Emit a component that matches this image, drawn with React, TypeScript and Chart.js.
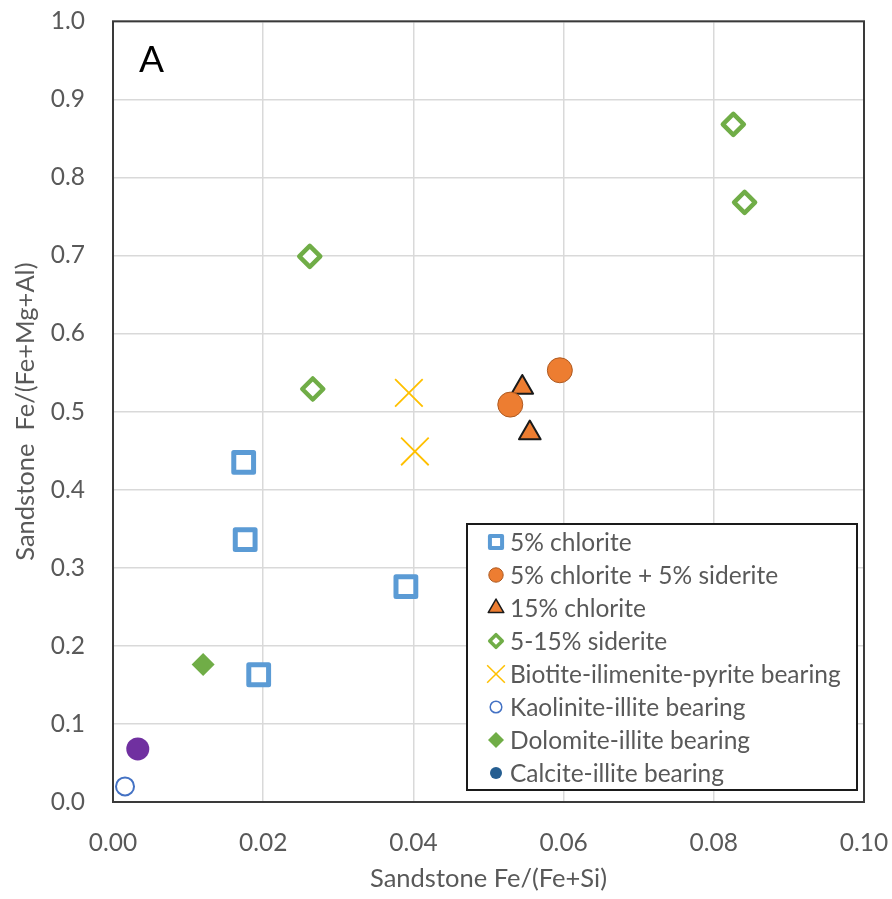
import React, { useEffect, useRef } from 'react';
import { Chart, registerables } from 'chart.js';

Chart.register(...registerables);

const FONT = 'Lato, "Noto Sans", sans-serif';
const TEXT_GREY = '#595959';

// Axis ticks
const xTickValues = [0, 0.02, 0.04, 0.06, 0.08, 0.1];
const xTickLabels = ['0.00', '0.02', '0.04', '0.06', '0.08', '0.10'];
const yTickValues = [0, 0.1, 0.2, 0.3, 0.4, 0.5, 0.6, 0.7, 0.8, 0.9, 1.0];
const yTickLabels = ['0.0', '0.1', '0.2', '0.3', '0.4', '0.5', '0.6', '0.7', '0.8', '0.9', '1.0'];

// Sample groups: Fe/(Fe+Si) on x, Fe/(Fe+Mg+Al) on y
const chlorite5X = [0.0174, 0.0176, 0.0194, 0.039];
const chlorite5Y = [0.435, 0.336, 0.163, 0.276];

const chloriteSideriteX = [0.0529, 0.0595];
const chloriteSideriteY = [0.509, 0.553];

const chlorite15X = [0.0545, 0.0555];
const chlorite15Y = [0.531, 0.4725];

const sideriteX = [0.0262, 0.0266, 0.0826, 0.0841];
const sideriteY = [0.699, 0.529, 0.868, 0.768];

const biotiteX = [0.0394, 0.0402];
const biotiteY = [0.524, 0.449];

const kaoliniteX = [0.0016];
const kaoliniteY = [0.02];

const dolomiteX = [0.012];
const dolomiteY = [0.176];

const calciteX: number[] = [];
const calciteY: number[] = [];

const otherX = [0.0033];
const otherY = [0.068];

const pts = (xs: number[], ys: number[]) => xs.map((x, i) => ({ x, y: ys[i] }));

const datasets: any[] = [
  {
    label: '5% chlorite',
    data: pts(chlorite5X, chlorite5Y),
    pointStyle: 'rect',
    pointRadius: 14,
    pointBorderWidth: 5,
    pointBorderColor: '#5B9BD5',
    pointBackgroundColor: '#ffffff',
    legendRadius: 8.6,
    legendBorder: 4,
  },
  {
    label: '5% chlorite + 5% siderite',
    data: pts(chloriteSideriteX, chloriteSideriteY),
    pointStyle: 'circle',
    pointRadius: 12.5,
    pointBorderWidth: 1,
    pointBorderColor: '#AE5A21',
    pointBackgroundColor: '#ED7D31',
    legendRadius: 7.2,
    legendBorder: 1,
  },
  {
    label: '15% chlorite',
    data: pts(chlorite15X, chlorite15Y),
    pointStyle: 'triangle',
    pointRadius: 12.5,
    pointBorderWidth: 2,
    pointBorderColor: '#1a1a1a',
    pointBackgroundColor: '#ED7D31',
    legendRadius: 9,
    legendBorder: 1.5,
  },
  {
    label: '5-15% siderite',
    data: pts(sideriteX, sideriteY),
    pointStyle: 'rectRot',
    pointRadius: 10.5,
    pointBorderWidth: 4.5,
    pointBorderColor: '#70AD47',
    pointBackgroundColor: '#ffffff',
    legendRadius: 6.3,
    legendBorder: 3.5,
  },
  {
    label: 'Biotite-ilimenite-pyrite bearing',
    data: pts(biotiteX, biotiteY),
    pointStyle: 'crossRot',
    pointRadius: 19.5,
    pointBorderWidth: 1.8,
    pointBorderColor: '#FFC000',
    pointBackgroundColor: '#FFC000',
    legendRadius: 12.5,
    legendBorder: 1.5,
  },
  {
    label: 'Kaolinite-illite bearing',
    data: pts(kaoliniteX, kaoliniteY),
    pointStyle: 'circle',
    pointRadius: 9,
    pointBorderWidth: 2,
    pointBorderColor: '#4472C4',
    pointBackgroundColor: '#ffffff',
    legendRadius: 5.8,
    legendBorder: 1.5,
  },
  {
    label: 'Dolomite-illite bearing',
    data: pts(dolomiteX, dolomiteY),
    pointStyle: 'rectRot',
    pointRadius: 11.5,
    pointBorderWidth: 0,
    pointBorderColor: '#70AD47',
    pointBackgroundColor: '#70AD47',
    legendRadius: 8,
    legendBorder: 0,
  },
  {
    label: 'Calcite-illite bearing',
    data: pts(calciteX, calciteY),
    pointStyle: 'circle',
    pointRadius: 6,
    pointBorderWidth: 0,
    pointBorderColor: '#255E91',
    pointBackgroundColor: '#255E91',
    legendRadius: 6,
    legendBorder: 0,
  },
  {
    label: 'Other',
    data: pts(otherX, otherY),
    pointStyle: 'circle',
    pointRadius: 11.5,
    pointBorderWidth: 0,
    pointBorderColor: '#7030A0',
    pointBackgroundColor: '#7030A0',
    hideInLegend: true,
  },
].map((d) => ({ ...d, showLine: false, clip: false, pointHoverRadius: d.pointRadius }));

function drawMarker(
  ctx: CanvasRenderingContext2D,
  style: string,
  x: number,
  y: number,
  r: number,
  fill: string,
  stroke: string,
  lw: number
) {
  ctx.save();
  ctx.beginPath();
  ctx.lineJoin = 'round';
  if (style === 'rect') {
    const s = r * Math.SQRT1_2;
    ctx.rect(x - s, y - s, 2 * s, 2 * s);
  } else if (style === 'circle') {
    ctx.arc(x, y, r, 0, Math.PI * 2);
  } else if (style === 'triangle') {
    ctx.moveTo(x, y - r);
    ctx.lineTo(x + r * Math.sin(Math.PI / 3), y + r / 2);
    ctx.lineTo(x - r * Math.sin(Math.PI / 3), y + r / 2);
    ctx.closePath();
  } else if (style === 'rectRot') {
    ctx.moveTo(x, y - r);
    ctx.lineTo(x + r, y);
    ctx.lineTo(x, y + r);
    ctx.lineTo(x - r, y);
    ctx.closePath();
  } else if (style === 'crossRot') {
    const s = r * Math.SQRT1_2;
    ctx.moveTo(x - s, y - s);
    ctx.lineTo(x + s, y + s);
    ctx.moveTo(x + s, y - s);
    ctx.lineTo(x - s, y + s);
  }
  if (style !== 'crossRot') {
    ctx.fillStyle = fill;
    ctx.fill();
  }
  if (lw > 0) {
    ctx.lineWidth = lw;
    ctx.strokeStyle = stroke;
    ctx.stroke();
  }
  ctx.restore();
}

// Frame around the plot area, drawn under the markers
const frame = {
  id: 'frame',
  beforeDatasetsDraw(chart: any) {
    const { ctx, chartArea: a } = chart;
    ctx.save();
    ctx.lineWidth = 2;
    ctx.strokeStyle = '#3a3a3a';
    ctx.strokeRect(a.left, a.top, a.right - a.left, a.bottom - a.top);
    ctx.restore();
  },
  beforeDatasetDraw(chart: any) {
    chart.ctx.lineJoin = 'round';
  },
  afterDatasetDraw(chart: any) {
    chart.ctx.lineJoin = 'miter';
  },
};

// Panel letter and boxed legend inside the plot
const overlay = {
  id: 'overlay',
  afterDraw(chart: any) {
    const { ctx } = chart;
    ctx.save();
    ctx.fillStyle = '#000000';
    ctx.font = `37px ${FONT}`;
    ctx.textBaseline = 'alphabetic';
    ctx.textAlign = 'left';
    ctx.fillText('A', 139, 72);

    const box = { left: 467, top: 524, right: 857, bottom: 790 };
    ctx.fillStyle = '#ffffff';
    ctx.fillRect(box.left, box.top, box.right - box.left, box.bottom - box.top);
    ctx.lineWidth = 2;
    ctx.strokeStyle = '#1a1a1a';
    ctx.strokeRect(box.left, box.top, box.right - box.left, box.bottom - box.top);

    const entries = chart.data.datasets.filter((d: any) => !d.hideInLegend);
    const rowTop = 542;
    const rowStep = 33;
    ctx.font = `24.5px ${FONT}`;
    ctx.textBaseline = 'middle';
    entries.forEach((d: any, i: number) => {
      const y = rowTop + i * rowStep;
      drawMarker(
        ctx,
        d.pointStyle,
        496,
        y,
        d.legendRadius,
        d.pointBackgroundColor,
        d.pointBorderColor,
        d.legendBorder
      );
      ctx.fillStyle = TEXT_GREY;
      ctx.fillText(d.label, 510, y + 1);
    });
    ctx.restore();
  },
};

// Drop the automatic label overhang padding so layout.padding alone sets the plot box
const zeroPadding = (scale: any) => {
  scale.paddingTop = 0;
  scale.paddingBottom = 0;
  scale.paddingLeft = 0;
  scale.paddingRight = 0;
};

export default function App() {
  const canvasRef = useRef<HTMLCanvasElement | null>(null);

  useEffect(() => {
    const canvas = canvasRef.current;
    if (!canvas) return;
    const chart = new Chart(canvas, {
      type: 'scatter',
      data: { datasets },
      options: {
        animation: false,
        responsive: false,
        devicePixelRatio: 1,
        layout: { padding: { top: 19, right: 28, left: 0, bottom: 0 } },
        plugins: {
          legend: { display: false },
          tooltip: { enabled: false },
        },
        scales: {
          x: {
            type: 'linear',
            min: 0,
            max: 0.1,
            afterBuildTicks: (scale: any) => {
              scale.ticks = xTickValues.map((value) => ({ value }));
            },
            afterFit: (scale: any) => {
              scale.height = 97;
              zeroPadding(scale);
            },
            ticks: {
              callback: (_v: any, i: number) => xTickLabels[i],
              color: TEXT_GREY,
              font: { family: FONT, size: 24.5 },
              padding: 26,
              maxRotation: 0,
            },
            grid: { color: '#d9d9d9', lineWidth: 1.5, drawTicks: false },
            border: { display: false },
            title: {
              display: true,
              text: 'Sandstone Fe/(Fe+Si)',
              color: TEXT_GREY,
              font: { family: FONT, size: 25.5 },
              padding: { top: 0, bottom: 5 },
            },
          },
          y: {
            type: 'linear',
            min: 0,
            max: 1,
            afterBuildTicks: (scale: any) => {
              scale.ticks = yTickValues.map((value) => ({ value }));
            },
            afterFit: (scale: any) => {
              scale.width = 113;
              zeroPadding(scale);
            },
            ticks: {
              callback: (_v: any, i: number) => yTickLabels[i],
              color: TEXT_GREY,
              font: { family: FONT, size: 24.5 },
              padding: 28,
            },
            grid: { color: '#d9d9d9', lineWidth: 1.5, drawTicks: false },
            border: { display: false },
            title: {
              display: true,
              text: 'Sandstone  Fe/(Fe+Mg+Al)',
              color: TEXT_GREY,
              font: { family: FONT, size: 25.5 },
              padding: { top: 10, bottom: 0 },
            },
          },
        },
      } as any,
      plugins: [frame, overlay],
    });
    return () => chart.destroy();
  }, []);

  return (
    <div style={{ position: 'absolute', left: 0, top: 0, width: 892, height: 899, background: '#ffffff' }}>
      <canvas ref={canvasRef} width={892} height={899} style={{ display: 'block' }} />
    </div>
  );
}
